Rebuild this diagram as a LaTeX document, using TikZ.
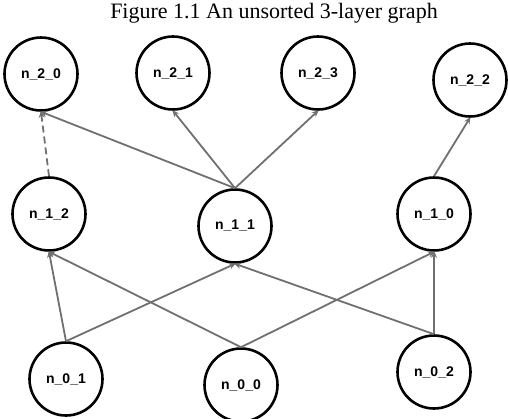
\documentclass[tikz,border=0pt]{standalone}
\usepackage{fontspec}
\setmainfont{Liberation Serif}
\newfontfamily\labelfont{Liberation Sans}
\usetikzlibrary{arrows.meta}
\definecolor{edgegray}{RGB}{112,112,112}
\tikzset{
  vert/.style={circle, draw=black, line width=2.6pt, minimum size=73pt, inner sep=0pt,
    font=\labelfont\bfseries\fontsize{14}{14}\selectfont},
  edge/.style={draw=edgegray, line width=1.8pt, -{Stealth[length=7pt,width=6pt]}, shorten >=-1pt},
  dashededge/.style={edge, dash pattern=on 7pt off 4pt}
}
\begin{document}
\begin{tikzpicture}[x=1pt,y=-1pt]
\useasboundingbox (0,0) rectangle (508,418);
\node[anchor=base, font=\fontsize{22}{22}\selectfont] (title) at (274,18) {Figure 1.1 An unsorted 3-layer graph};
\node[vert] (n20) at (41,74) {n\_2\_0};
\node[vert] (n21) at (173,73) {n\_2\_1};
\node[vert] (n23) at (318,73) {n\_2\_3};
\node[vert] (n22) at (470,80) {n\_2\_2};
\node[vert] (n12) at (49,214) {n\_1\_2};
\node[vert] (n11) at (235,226) {n\_1\_1};
\node[vert] (n10) at (434,214) {n\_1\_0};
\node[vert] (n01) at (66,379) {n\_0\_1};
\node[vert] (n00) at (241,385) {n\_0\_0};
\node[vert] (n02) at (434,372) {n\_0\_2};
\draw[dashededge] (n12.north) -- (n20.south);
\draw[edge] (n11.north) -- (n20.south);
\draw[edge] (n11.north) -- (n21.south);
\draw[edge] (n11.north) -- (n23.south);
\draw[edge] (n10.north) -- (n22.south);
\draw[edge] (n01.north) -- (n12.south);
\draw[edge] (n01.north) -- (n11.south);
\draw[edge] (n00.north) -- (n12.south);
\draw[edge] (n00.north) -- (n10.south);
\draw[edge] (n02.north) -- (n11.south);
\draw[edge] (n02.north) -- (n10.south);
\end{tikzpicture}
\end{document}
